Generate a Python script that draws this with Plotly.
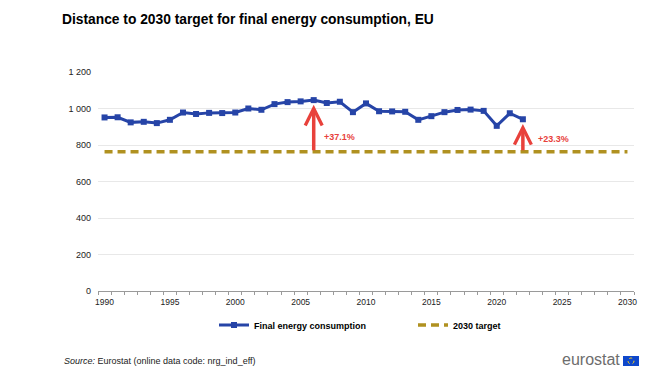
import plotly.graph_objects as go

years = list(range(1990, 2023))
consumption = [951, 952, 924, 927, 920, 938, 978, 970, 976, 975, 978, 1000, 993,
               1024, 1035, 1039, 1046, 1030, 1037, 980, 1028, 985, 984, 982, 938,
               958, 980, 992, 994, 987, 905, 974, 941]
target_years = list(range(1990, 2031))
target_value = 763
target = [target_value] * len(target_years)
arrow_years = [2006, 2022]
arrow_labels = ["+37.1%", "+23.3%"]
y_ticks = [0, 200, 400, 600, 800, 1000, 1200]
y_ticktext = ["0", "200", "400", "600", "800", "1 000", "1 200"]
x_ticks = [1990, 1995, 2000, 2005, 2010, 2015, 2020, 2025, 2030]

BLUE = "#2644a7"
GOLD = "#b09120"
RED = "#e8413b"
FONT = "Liberation Sans, Arial, sans-serif"

# page body has an 8px margin: work in screen pixels and subtract it
OFF = 8
W, H = 667 - OFF, 384 - OFF
L = 98 - OFF
T = 72 - OFF
R = 667 - 634
B = H - (291 - OFF)
PW, PH = W - L - R, H - T - B


def px(sx):
    return (sx - OFF - L) / PW


def py(sy):
    return (H - B - (sy - OFF)) / PH


fig = go.Figure()
fig.add_trace(go.Scatter(
    x=target_years, y=target, mode="lines", name="2030 target",
    line=dict(color=GOLD, width=3.4, dash="8px,5px"),
))
fig.add_trace(go.Scatter(
    x=years, y=consumption, mode="lines+markers", name="Final energy consumption",
    line=dict(color=BLUE, width=3), marker=dict(symbol="square", size=6, color=BLUE),
))

for yr, lab, dy in zip(arrow_years, arrow_labels, [82, 70]):
    v = consumption[years.index(yr)]
    fig.add_annotation(x=yr, y=v - 26, ax=yr, ay=target_value, xref="x", yref="y",
                       axref="x", ayref="y", showarrow=True, arrowhead=5,
                       arrowsize=0.95, arrowwidth=3.5, arrowcolor=RED, text="")
    fig.add_annotation(x=yr, y=target_value + dy,
                       xref="x", yref="y", text="<b>" + lab + "</b>", showarrow=False,
                       xanchor="left", xshift=8 if yr == 2006 else 13,
                       font=dict(family=FONT, size=9, color=RED))

fig.add_annotation(xref="paper", yref="paper", x=px(62), y=py(361),
                   xanchor="left", yanchor="middle", showarrow=False,
                   text="<i>Source:</i> Eurostat (online data code: nrg_ind_eff)",
                   font=dict(family=FONT, size=9, color="#222"))
fig.add_annotation(xref="paper", yref="paper", x=px(622), y=py(359),
                   xanchor="right", yanchor="middle", showarrow=False,
                   text="eurostat", font=dict(family=FONT, size=16, color="#6d6d6d"))
fig.add_shape(type="rect", xref="paper", yref="paper",
              x0=px(623), x1=px(639), y0=py(366), y1=py(356),
              fillcolor="#0e47cb", line=dict(width=0))
fig.add_shape(type="circle", xref="paper", yref="paper",
              x0=px(628), x1=px(634), y0=py(364), y1=py(358),
              line=dict(color="#ffd617", width=1, dash="dot"))

fig.update_layout(
    width=W, height=H, margin=dict(l=L, r=R, t=T, b=B, autoexpand=False),
    paper_bgcolor="white", plot_bgcolor="white",
    font=dict(family=FONT, size=9, color="#222"),
    title=dict(text="<b>Distance to 2030 target for final energy consumption, EU</b>",
               x=(62 - OFF) / W, xanchor="left", y=1 - (19 - OFF) / H, yanchor="middle",
               font=dict(family=FONT, size=13.8, color="#000")),
    showlegend=True,
    legend=dict(orientation="h", x=px(214), xanchor="left",
                y=py(325), yanchor="middle",
                font=dict(family=FONT, size=9, color="#000", weight="bold"),
                traceorder="reversed", itemwidth=30, entrywidth=154),
    xaxis=dict(range=[1989.5, 2030.5], tickvals=x_ticks, ticks="", showgrid=False,
               showline=True, linecolor="#9a9a9a", linewidth=1, zeroline=False,
               ticklabelstandoff=3,
               tickfont=dict(size=8.5, color="#222"),
               minor=dict(ticks="outside", tick0=1989.5, dtick=1, ticklen=3,
                          tickcolor="#9a9a9a", showgrid=False)),
    yaxis=dict(range=[0, 1200], tickvals=y_ticks, ticktext=y_ticktext, showgrid=True,
               gridcolor="#e8e8e8", gridwidth=1, zeroline=False, showline=False,
               ticks="", ticklabelstandoff=6, tickfont=dict(size=9, color="#222")),
)

fig.write_html("out.html")
